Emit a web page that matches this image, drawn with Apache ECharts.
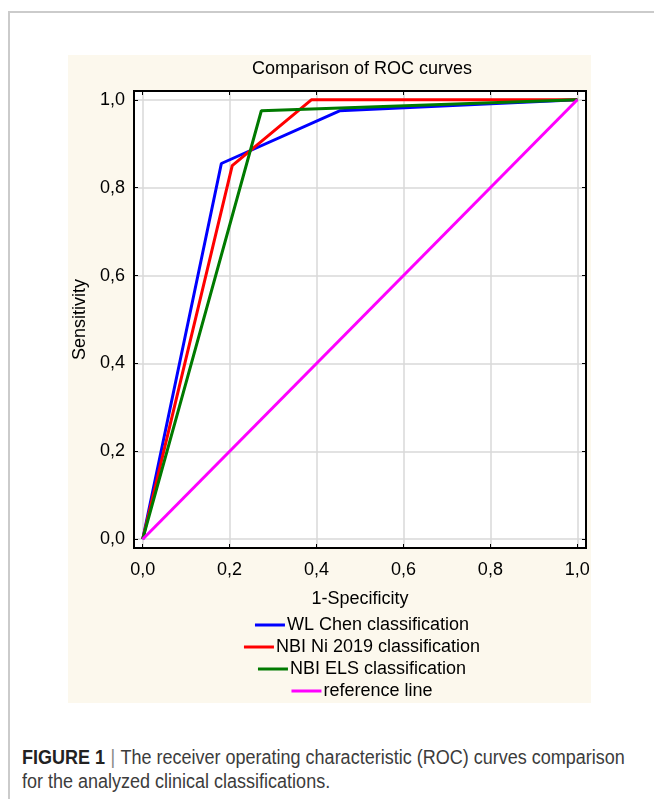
<!DOCTYPE html>
<html>
<head>
<meta charset="utf-8">
<title>Comparison of ROC curves</title>
<script src="https://cdn.jsdelivr.net/npm/echarts@6/dist/echarts.min.js"></script>
<style>
    html, body { margin: 0; padding: 0; width: 654px; height: 799px; overflow: hidden; background: #fff; }
    #frame { position: absolute; left: 8px; top: 11px; width: 700px; height: 820px;
             border-top: 2px solid #cbcbcb; border-left: 2px solid #cbcbcb; }
    #panel { position: absolute; left: 68px; top: 55px; width: 523px; height: 648px; background: #fcf8ed; }
    #main { position: absolute; left: 68px; top: 55px; width: 588px; height: 648px; }
    #caption { position: absolute; left: 22px; top: 745px; width: 740px;
               font-family: "Liberation Sans", Arial, sans-serif;
               font-size: 20px; line-height: 24px; color: #3c3c3c;
               transform: scaleX(0.9); transform-origin: 0 0; }
    #caption b { color: #222; }
    #caption .bar { color: #888; padding: 0 6px; }
</style>
</head>
<body>
<div id="frame"></div>
<div id="panel"></div>
<div id="main"></div>
<div id="caption"><b>FIGURE 1</b><span class="bar">|</span>The receiver operating characteristic (ROC) curves comparison<br>for the analyzed clinical classifications.</div>

<script type="text/javascript">
    // values: 1-specificity (x) and sensitivity (y)
    var names = ['WL Chen classification', 'NBI Ni 2019 classification', 'NBI ELS classification', 'reference line'];
    var colors = ['#0000ff', '#ff0000', '#007a00', '#ff00ff'];
    var chenX = [0, 0.181, 0.453, 1.0];
    var chenY = [0, 0.855, 0.975, 1.0];
    var niX = [0, 0.206, 0.388, 1.0];
    var niY = [0, 0.85, 1.0, 1.0];
    var elsX = [0, 0.273, 1.0];
    var elsY = [0, 0.975, 1.0];
    var refX = [0, 1.0];
    var refY = [0, 1.0];
    var tickValues = [0, 0.2, 0.4, 0.6, 0.8, 1.0];

    function pairs(xs, ys) {
        return xs.map(function (x, i) { return [x, ys[i]]; });
    }

    function fmt(v) {
        // only the 0.2 steps get a label, with a decimal comma
        for (var i = 0; i < tickValues.length; i++) {
            if (Math.abs(v - tickValues[i]) < 1e-6) return tickValues[i].toFixed(1).replace('.', ',');
        }
        return '';
    }

    var font = 'Liberation Sans';
    var fs = 18;
    var axisBase = {
        type: 'value',
        min: -0.02,
        max: 1.02,
        splitNumber: 5,
        axisLine: { show: true, onZero: false, lineStyle: { color: '#000', width: 2 } },
        axisTick: { show: true, inside: true, length: 4, lineStyle: { color: '#000', width: 1 } }
    };

    var myChart = echarts.init(document.getElementById('main'), null, { renderer: 'canvas' });

    var series = [[chenX, chenY], [niX, niY], [elsX, elsY], [refX, refY]].map(function (d, i) {
        return {
            name: names[i],
            type: 'line',
            data: pairs(d[0], d[1]),
            showSymbol: false,
            symbol: 'none',
            lineStyle: { color: colors[i], width: 3 },
            itemStyle: { color: colors[i] }
        };
    });

    // one legend per row so each row is centred on its own
    var legends = names.map(function (n, i) {
        return {
            data: [n],
            left: 'center',
            top: 561 + i * 22,
            padding: 0,
            icon: 'rect',
            itemWidth: 30,
            itemHeight: 3,
            selectedMode: false,
            textStyle: { fontFamily: font, fontSize: fs, color: '#000', padding: [0, 0, 0, -3] }
        };
    });

    var option = {
        animation: false,
        backgroundColor: 'transparent',
        title: {
            text: 'Comparison of ROC curves',
            left: 'center',
            top: 5,
            padding: 0,
            textStyle: { fontFamily: font, fontSize: fs, fontWeight: 'normal', color: '#000' }
        },
        legend: legends,
        grid: {
            left: 66, top: 36, right: 70, height: 457,
            containLabel: false,
            outerBoundsMode: 'none',
            show: true, backgroundColor: '#fff', borderColor: '#000', borderWidth: 2
        },
        xAxis: [
            Object.assign({}, axisBase, {
                position: 'bottom',
                name: '1-Specificity',
                nameLocation: 'middle',
                nameGap: 42,
                nameTextStyle: { fontFamily: font, fontSize: fs, color: '#000' },
                axisLabel: { show: true, margin: 13, formatter: fmt, showMinLabel: false, showMaxLabel: false,
                             fontFamily: font, fontSize: fs, color: '#000' },
                splitLine: { show: true, lineStyle: { color: '#d8d8d8', width: 1.5 } }
            }),
            Object.assign({}, axisBase, {
                position: 'top',
                axisLabel: { show: false },
                splitLine: { show: false }
            })
        ],
        yAxis: [
            Object.assign({}, axisBase, {
                position: 'left',
                name: 'Sensitivity',
                nameLocation: 'middle',
                nameGap: 44,
                nameTextStyle: { fontFamily: font, fontSize: fs, color: '#000' },
                axisLabel: { show: true, margin: 9, formatter: fmt, showMinLabel: false, showMaxLabel: false,
                             fontFamily: font, fontSize: fs, color: '#000' },
                splitLine: { show: true, lineStyle: { color: '#d8d8d8', width: 1.5 } }
            }),
            Object.assign({}, axisBase, {
                position: 'right',
                axisLabel: { show: false },
                splitLine: { show: false }
            })
        ],
        series: series
    };

    myChart.setOption(option);
</script>
</body>
</html>
